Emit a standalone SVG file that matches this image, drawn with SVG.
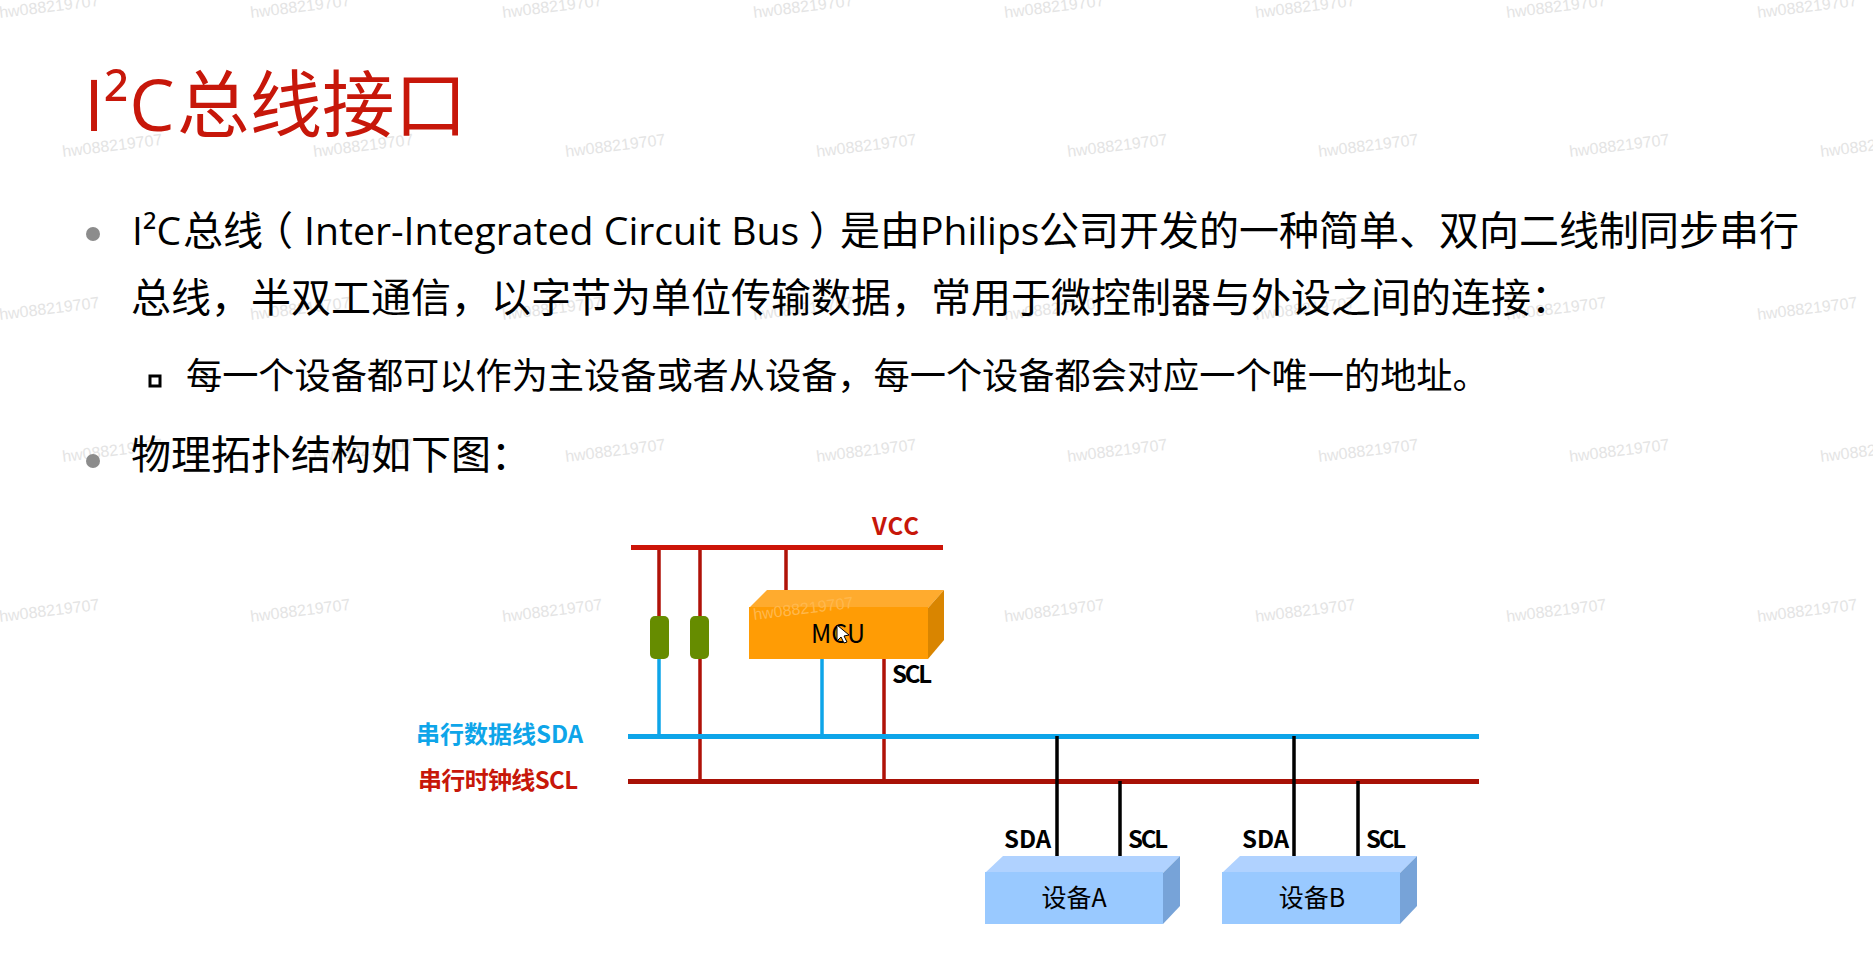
<svg xmlns="http://www.w3.org/2000/svg" width="1873" height="980" viewBox="0 0 1873 980">
<style>
text{font-family:"Noto Sans CJK SC","Open Sans",sans-serif;fill:#000}
.la{font-family:"Open Sans","Noto Sans CJK SC",sans-serif}
text.wm{font-family:"Liberation Sans",sans-serif;font-size:16px;fill:#e4e4e4}
text.wm2{fill:#ffb84d}
.b{font-size:40px}.sub{font-size:36.2px}
.lab{font-size:24px;font-weight:700}
.nd{font-size:25px;text-anchor:middle}
.vcc{stroke:#b01208;stroke-width:3.5;fill:none}
.sda{stroke:#0ea5e9;stroke-width:3.5;fill:none}
.blk{stroke:#000;stroke-width:3.5;fill:none}
.res{fill:#668c00}
</style>
<g id="watermarks">
<text class="wm" transform="translate(0,18) rotate(-7)">hw088219707</text><text class="wm" transform="translate(251,18) rotate(-7)">hw088219707</text><text class="wm" transform="translate(503,18) rotate(-7)">hw088219707</text><text class="wm" transform="translate(754,18) rotate(-7)">hw088219707</text><text class="wm" transform="translate(1005,18) rotate(-7)">hw088219707</text><text class="wm" transform="translate(1256,18) rotate(-7)">hw088219707</text><text class="wm" transform="translate(1507,18) rotate(-7)">hw088219707</text><text class="wm" transform="translate(1758,18) rotate(-7)">hw088219707</text>
<text class="wm" transform="translate(63,157) rotate(-7)">hw088219707</text><text class="wm" transform="translate(314,157) rotate(-7)">hw088219707</text><text class="wm" transform="translate(566,157) rotate(-7)">hw088219707</text><text class="wm" transform="translate(817,157) rotate(-7)">hw088219707</text><text class="wm" transform="translate(1068,157) rotate(-7)">hw088219707</text><text class="wm" transform="translate(1319,157) rotate(-7)">hw088219707</text><text class="wm" transform="translate(1570,157) rotate(-7)">hw088219707</text><text class="wm" transform="translate(1821,157) rotate(-7)">hw088219707</text>
<text class="wm" transform="translate(0,320) rotate(-7)">hw088219707</text><text class="wm" transform="translate(251,320) rotate(-7)">hw088219707</text><text class="wm" transform="translate(503,320) rotate(-7)">hw088219707</text><text class="wm" transform="translate(754,320) rotate(-7)">hw088219707</text><text class="wm" transform="translate(1005,320) rotate(-7)">hw088219707</text><text class="wm" transform="translate(1256,320) rotate(-7)">hw088219707</text><text class="wm" transform="translate(1507,320) rotate(-7)">hw088219707</text><text class="wm" transform="translate(1758,320) rotate(-7)">hw088219707</text>
<text class="wm" transform="translate(63,462) rotate(-7)">hw088219707</text><text class="wm" transform="translate(314,462) rotate(-7)">hw088219707</text><text class="wm" transform="translate(566,462) rotate(-7)">hw088219707</text><text class="wm" transform="translate(817,462) rotate(-7)">hw088219707</text><text class="wm" transform="translate(1068,462) rotate(-7)">hw088219707</text><text class="wm" transform="translate(1319,462) rotate(-7)">hw088219707</text><text class="wm" transform="translate(1570,462) rotate(-7)">hw088219707</text><text class="wm" transform="translate(1821,462) rotate(-7)">hw088219707</text>
<text class="wm" transform="translate(0,622) rotate(-7)">hw088219707</text><text class="wm" transform="translate(251,622) rotate(-7)">hw088219707</text><text class="wm" transform="translate(503,622) rotate(-7)">hw088219707</text><text class="wm" transform="translate(1005,622) rotate(-7)">hw088219707</text><text class="wm" transform="translate(1256,622) rotate(-7)">hw088219707</text><text class="wm" transform="translate(1507,622) rotate(-7)">hw088219707</text><text class="wm" transform="translate(1758,622) rotate(-7)">hw088219707</text>
</g>
<g id="title"><text x="84" y="131" font-size="72.5" style="fill:#c7170a"><tspan class="la" font-size="72">I²C</tspan><tspan x="177">总线接口</tspan></text></g>
<g id="body">
<circle cx="93" cy="234" r="7" fill="#8c8c8c"/>
<text class="b" y="245"><tspan class="la" x="132" style="font-size:39px">I²C</tspan><tspan x="183">总线</tspan><tspan x="253">（</tspan><tspan class="la" x="304" style="font-size:39.2px">Inter-Integrated Circuit Bus</tspan><tspan x="809">）</tspan><tspan x="840">是由</tspan><tspan class="la" x="920" style="font-size:39px">Philips</tspan><tspan x="1039">公司开发的一种简单、双向二线制同步串行</tspan></text>
<text class="b" x="131" y="312">总线，半双工通信，以字节为单位传输数据，常用于微控制器与外设之间的连接：</text>
<rect x="150" y="376" width="10" height="10" fill="none" stroke="#000" stroke-width="3"/>
<text class="sub" x="186" y="389">每一个设备都可以作为主设备或者从设备，每一个设备都会对应一个唯一的地址。</text>
<circle cx="93" cy="461" r="7" fill="#8c8c8c"/>
<text class="b" x="131" y="469">物理拓扑结构如下图：</text>
</g>
<g id="connectors">
<path class="vcc" d="M659 547V618M700 547V618M786 547V592"/>
<path class="sda" d="M659 658V736M822 658V736"/>
<path class="vcc" d="M700 658V781M884 658V781"/>
<path d="M631 547.5H943" stroke="#cc1408" stroke-width="5"/>
<path d="M628 736.5H1479" stroke="#0ea5e9" stroke-width="5"/>
<path d="M628 781.5H1479" stroke="#a81106" stroke-width="5"/>
<path class="blk" d="M1057 736V858M1120 781V858M1294 736V858M1358 781V858"/>
</g>
<g id="res1"><rect class="res" x="650" y="616" width="19" height="43" rx="5"/></g>
<g id="res2"><rect class="res" x="690" y="616" width="19" height="43" rx="5"/></g>
<g id="mcu">
<path d="M749 608L767 590H944L928 608Z" fill="#ffab2e"/>
<path d="M928 608L944 590V640L928 659Z" fill="#d98500"/>
<rect x="749" y="607" width="179" height="52" fill="#ff9c05"/>
<text class="wm wm2" transform="translate(754,620) rotate(-7)">hw088219707</text>
<text class="nd" x="838" y="643">MCU</text>
<path d="M837 625V641L841 637L844 643L847 642L844 636L849 635Z" fill="#fff" stroke="#000" stroke-width="1"/>
</g>
<g id="devA">
<path d="M985 873L1003 856H1180L1163 873Z" fill="#b0d2ff"/>
<path d="M1163 873L1180 856V906L1163 924Z" fill="#77a3d8"/>
<rect x="985" y="872" width="178" height="52" fill="#99c9ff"/>
<text class="nd" x="1074" y="907">设备A</text>
</g>
<g id="devB">
<path d="M1222 873L1240 856H1417L1400 873Z" fill="#b0d2ff"/>
<path d="M1400 873L1417 856V906L1400 924Z" fill="#77a3d8"/>
<rect x="1222" y="872" width="178" height="52" fill="#99c9ff"/>
<text class="nd" x="1312" y="907">设备B</text>
</g>
<g id="labels">
<text class="lab" x="872" y="535" textLength="47" style="fill:#c7170a">VCC</text>
<text class="lab" x="892" y="683" textLength="40">SCL</text>
<text class="lab" x="416" y="743" style="fill:#0ea5e9">串行数据线SDA</text>
<text class="lab" x="418" y="789" textLength="160" style="fill:#c7170a">串行时钟线SCL</text>
<text class="lab" x="1004" y="848">SDA</text>
<text class="lab" x="1128" y="848" textLength="40">SCL</text>
<text class="lab" x="1242" y="848">SDA</text>
<text class="lab" x="1366" y="848" textLength="40">SCL</text>
</g>
</svg>
